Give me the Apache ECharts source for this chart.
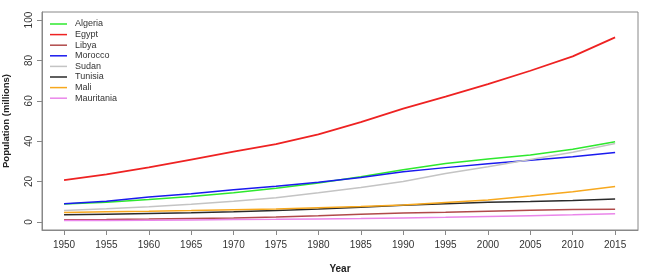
<!DOCTYPE html>
<html>
<head>
<meta charset="utf-8">
<script src="https://cdn.jsdelivr.net/npm/echarts@6/dist/echarts.min.js"></script>
<style>
  html, body { margin: 0; padding: 0; background: #fff; }
  #chart { width: 646px; height: 275px; }
</style>
</head>
<body>
<div id="chart"></div>
<script>
// population in millions, 5-year steps
const years = [1950, 1955, 1960, 1965, 1970, 1975, 1980, 1985, 1990, 1995, 2000, 2005, 2010, 2015];
const algeria = [8.9, 9.8, 11.1, 12.6, 14.5, 16.7, 19.3, 22.4, 25.9, 28.9, 31.2, 33.1, 36.0, 39.7];
const egypt = [20.7, 23.6, 27.0, 30.9, 34.8, 38.5, 43.4, 49.4, 56.1, 62.1, 68.3, 74.9, 82.0, 91.4];
const libya = [1.1, 1.2, 1.4, 1.7, 2.0, 2.5, 3.1, 3.8, 4.4, 4.8, 5.3, 5.8, 6.2, 6.3];
const morocco = [9.0, 10.2, 12.3, 14.0, 15.9, 17.7, 19.6, 22.0, 24.8, 26.9, 28.8, 30.5, 32.3, 34.4];
const sudan = [5.7, 6.5, 7.5, 8.7, 10.2, 12.0, 14.4, 17.0, 20.0, 24.0, 27.3, 30.9, 34.5, 38.8];
const tunisia = [3.5, 3.8, 4.2, 4.6, 5.1, 5.7, 6.4, 7.3, 8.2, 9.0, 9.7, 10.1, 10.6, 11.3];
const mali = [4.7, 5.1, 5.3, 5.6, 6.0, 6.4, 7.0, 7.6, 8.4, 9.6, 10.9, 12.8, 15.0, 17.5];
const mauritania = [0.65, 0.75, 0.85, 1.0, 1.15, 1.3, 1.5, 1.7, 2.0, 2.3, 2.7, 3.1, 3.5, 4.0];

const yTicks = [0, 20, 40, 60, 80, 100];

const countries = [
  { name: 'Algeria', data: algeria, color: '#2ee82e' },
  { name: 'Egypt', data: egypt, color: '#ee2222' },
  { name: 'Libya', data: libya, color: '#b04a4a' },
  { name: 'Morocco', data: morocco, color: '#1a1aee' },
  { name: 'Sudan', data: sudan, color: '#c4c4c4' },
  { name: 'Tunisia', data: tunisia, color: '#2a2a2a' },
  { name: 'Mali', data: mali, color: '#f7a81e' },
  { name: 'Mauritania', data: mauritania, color: '#ea86ea' }
];

const chart = echarts.init(document.getElementById('chart'), null, { renderer: 'canvas' });

const axisText = { color: '#333', fontFamily: 'Liberation Sans', fontSize: 10 };

chart.setOption({
  animation: false,
  textStyle: { fontFamily: 'Liberation Sans' },
  grid: {
    left: 42, right: 8, top: 12, bottom: 45,
    outerBoundsMode: 'none',
    show: true, borderColor: '#888', borderWidth: 1
  },
  legend: {
    orient: 'vertical',
    left: 45,
    top: 14,
    icon: 'rect',
    itemWidth: 17,
    itemHeight: 1.5,
    itemGap: 0.6,
    data: countries.map(c => c.name),
    textStyle: { fontFamily: 'Liberation Sans', fontSize: 9, color: '#333', lineHeight: 10, padding: [0, 0, 0, 3] }
  },
  xAxis: {
    type: 'value',
    min: 1947.4,
    max: 2017.7,
    name: 'Year',
    nameLocation: 'middle',
    nameGap: 34,
    nameTextStyle: { fontWeight: 'bold', fontSize: 10, color: '#222' },
    axisLine: { show: true, onZero: false, lineStyle: { color: '#888' } },
    axisTick: { show: true, length: 5, lineStyle: { color: '#888' }, customValues: years },
    axisLabel: { ...axisText, margin: 10, customValues: years, formatter: v => String(v) },
    splitLine: { show: false }
  },
  yAxis: {
    type: 'value',
    min: -4,
    max: 104,
    name: 'Population (millions)',
    nameLocation: 'middle',
    nameRotate: 90,
    nameGap: 31,
    nameTextStyle: { fontWeight: 'bold', fontSize: 9.5, color: '#222' },
    axisLine: { show: true, lineStyle: { color: '#888' } },
    axisTick: { show: true, length: 5, lineStyle: { color: '#888' }, customValues: yTicks },
    axisLabel: { ...axisText, rotate: 90, margin: 8, customValues: yTicks },
    splitLine: { show: false }
  },
  series: countries.map(c => ({
    name: c.name,
    type: 'line',
    data: years.map((y, i) => [y, c.data[i]]),
    showSymbol: false,
    symbol: 'none',
    color: c.color,
    lineStyle: { width: c.name === 'Egypt' ? 1.8 : 1.5, color: c.color }
  }))
});
</script>
</body>
</html>
